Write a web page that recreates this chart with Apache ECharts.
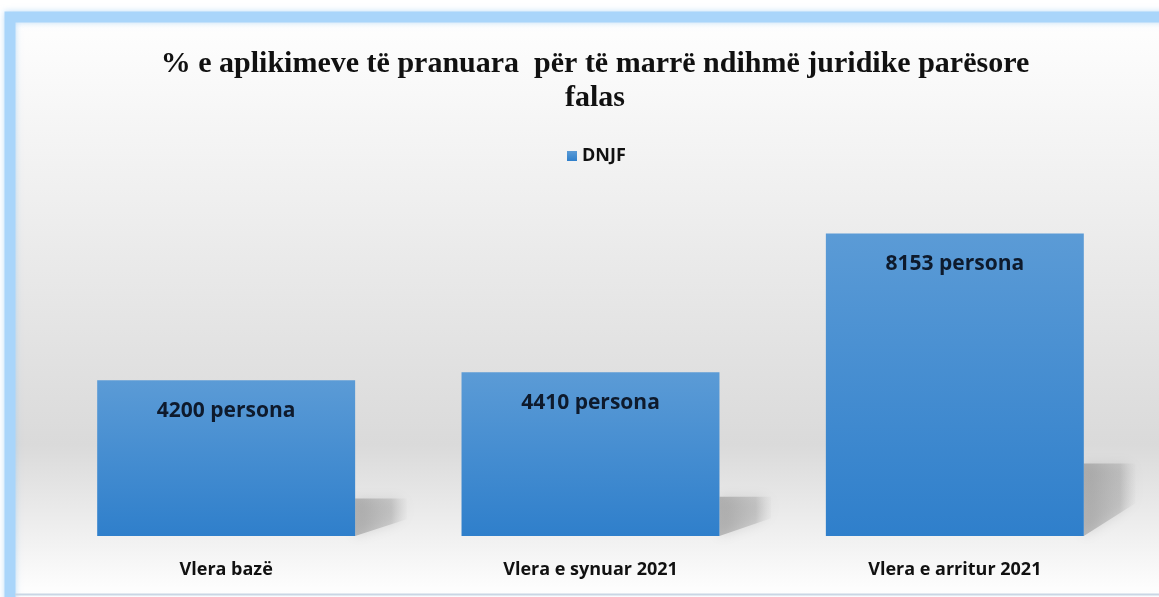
<html>
<head>
    <meta http-equiv="Content-Type" content="text/html; charset=utf-8" />
    <title>DNJF</title>
    <script src="https://cdn.jsdelivr.net/npm/echarts@6/dist/echarts.min.js"></script>
    <style>
        html, body { margin: 0; padding: 0; background: #fff; }
    </style>
</head>
<body>
    <div id="main" style="width:1159px;height:597px"></div>

    <script type="text/javascript">
        var categories = ['Vlera bazë', 'Vlera e synuar 2021', 'Vlera e arritur 2021'];
        var values = [4200, 4410, 8153];
        var seriesName = 'DNJF';
        var unit = ' persona';

        var shadowData = values.map(function (v, i) {
            return [i, v];
        });

        var myChart = echarts.init(document.getElementById('main'));

        var option = {
            animation: false,
            graphic: [{
                type: 'rect',
                z: -10,
                silent: true,
                shape: { x: 10, y: 17, width: 1170, height: 590 },
                style: {
                    stroke: '#a9d5fa',
                    lineWidth: 11,
                    shadowColor: 'rgba(150,200,245,0.6)',
                    shadowBlur: 6,
                    fill: {
                        type: 'linear', x: 0, y: 0, x2: 0, y2: 1,
                        colorStops: [
                            { offset: 0, color: '#ffffff' },
                            { offset: 0.72, color: '#dadada' },
                            { offset: 0.96, color: '#fdfdfd' },
                            { offset: 1, color: '#ffffff' }
                        ]
                    }
                }
            }, {
                type: 'line',
                z: -9,
                silent: true,
                shape: { x1: 15, y1: 594.5, x2: 1159, y2: 594.5 },
                style: { stroke: '#c9d6e4', lineWidth: 2 }
            }],
            title: {
                text: '% e aplikimeve të pranuara  për të marrë ndihmë juridike parësore\nfalas',
                left: 590,
                textAlign: 'center',
                top: 42,
                textStyle: {
                    fontFamily: 'Liberation Serif',
                    fontWeight: 'bold',
                    fontSize: 30,
                    lineHeight: 34,
                    color: '#111'
                }
            },
            legend: {
                data: [seriesName],
                top: 142,
                left: 562,
                icon: 'rect',
                itemWidth: 10,
                itemHeight: 10,
                itemGap: 5,
                textStyle: {
                    fontFamily: 'Open Sans',
                    fontWeight: 'bold',
                    fontSize: 18,
                    color: '#111'
                }
            },
            grid: {
                left: 44,
                right: 22,
                top: 202,
                bottom: 61
            },
            xAxis: {
                type: 'category',
                data: categories,
                axisLine: { show: false },
                axisTick: { show: false },
                axisLabel: {
                    margin: 25,
                    fontFamily: 'Open Sans',
                    fontWeight: 'bold',
                    fontSize: 18,
                    color: '#111'
                }
            },
            yAxis: {
                type: 'value',
                min: 0,
                max: 9000,
                show: false,
                splitLine: { show: false }
            },
            series: [{
                type: 'custom',
                name: 'shadow',
                z: 1,
                silent: true,
                data: shadowData,
                renderItem: function (params, api) {
                    var base = api.coord([api.value(0), 0]);
                    var top = api.coord([api.value(0), api.value(1)]);
                    var bw = api.size([1, 0])[0] * 0.708;
                    var rx = base[0] + bw / 2;
                    var h = (base[1] - top[1]) * 0.24;
                    var w = bw * 0.2;
                    return {
                        type: 'polygon',
                        shape: {
                            points: [
                                [rx, base[1]],
                                [rx, base[1] - h],
                                [rx + w, base[1] - h],
                                [rx + w, base[1] - h * 0.45]
                            ]
                        },
                        style: {
                            fill: {
                                type: 'linear', x: 0, y: 0, x2: 1, y2: 0,
                                colorStops: [
                                    { offset: 0, color: 'rgba(120,120,120,0.45)' },
                                    { offset: 0.7, color: 'rgba(150,150,150,0.35)' },
                                    { offset: 1, color: 'rgba(200,200,200,0.1)' }
                                ]
                            },
                            shadowColor: 'rgba(120,120,120,0.5)',
                            shadowBlur: 12
                        }
                    };
                }
            }, {
                type: 'bar',
                name: seriesName,
                z: 2,
                barWidth: '70.8%',
                data: values,
                itemStyle: {
                    color: {
                        type: 'linear', x: 0, y: 0, x2: 0, y2: 1,
                        colorStops: [
                            { offset: 0, color: '#5b9bd6' },
                            { offset: 1, color: '#2f7fcb' }
                        ]
                    }
                },
                label: {
                    show: true,
                    position: 'insideTop',
                    distance: 20,
                    formatter: function (p) { return p.value + unit; },
                    fontFamily: 'Open Sans',
                    fontWeight: 'bold',
                    fontSize: 21,
                    color: '#0e1a2c'
                }
            }]
        };

        myChart.setOption(option);
    </script>
</body>
</html>
